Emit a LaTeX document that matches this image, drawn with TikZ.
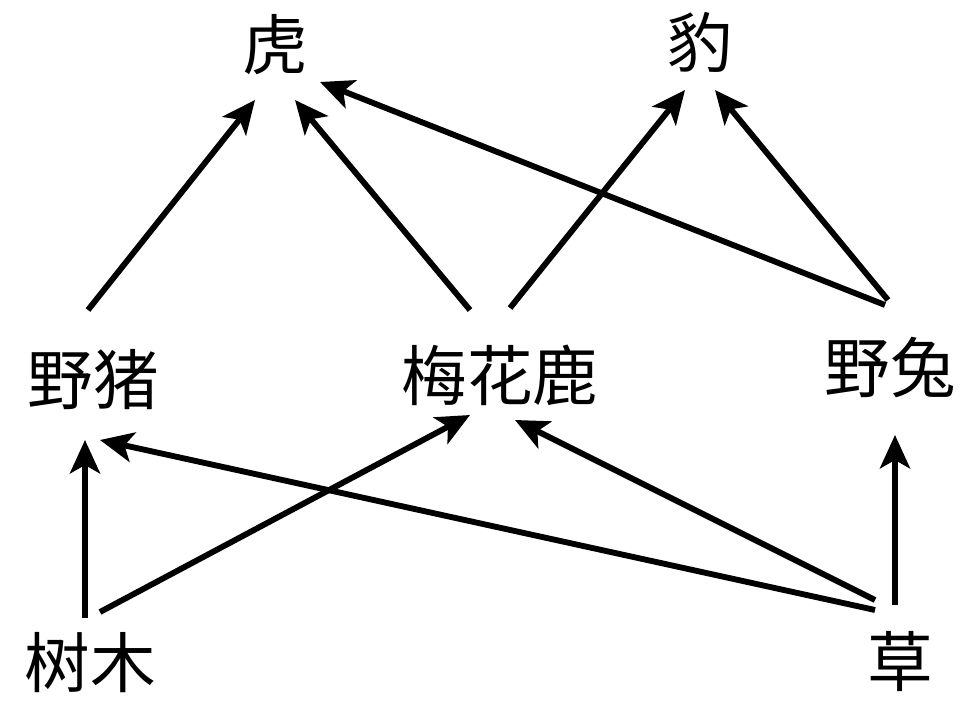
\documentclass[tikz,border=0pt]{standalone}
\usepackage{fontspec}
\setmainfont{Noto Sans CJK SC}
\usetikzlibrary{arrows.meta, positioning}
\tikzstyle{animal} = [inner sep = 0, font = \fontsize{56}{58}\selectfont]
\tikzstyle{eat} = [line width = 5pt, -{Stealth[length = 1cm, width = 0.9cm, inset = 0.25cm]}]

\begin{document}
\begin{tikzpicture}[x = 0.03cm, y = -0.03cm]
      \useasboundingbox (0, 0) rectangle (967, 707);
      % top
      \node [animal] (tiger) at (275, 45) {虎};
      \node [animal] (leopard) at (700, 42) {豹};
      % middle
      \node [animal] (boar) at (93, 380) {野猪};
      \node [animal] (deer) at (500, 375) {梅花鹿};
      \node [animal] (hare) at (890, 368) {野兔};
      % bottom
      \node [animal] (tree) at (90, 663) {树木};
      \node [animal] (grass) at (900, 662) {草};

      \draw [eat] ([shift = {(-5, -70)}]boar.center) -- ([shift = {(-20, 55)}]tiger.center);
      \draw [eat] ([shift = {(-30, -65)}]deer.center) -- ([shift = {(20, 55)}]tiger.center);
      \draw [eat] ([shift = {(-5, -63)}]hare.center) -- ([shift = {(45, 37)}]tiger.center);
      \draw [eat] ([shift = {(10, -67)}]deer.center) -- ([shift = {(-15, 48)}]leopard.center);
      \draw [eat] ([shift = {(-2, -68)}]hare.center) -- ([shift = {(15, 48)}]leopard.center);
      \draw [eat] ([shift = {(-5, -45)}]tree.center) -- ([shift = {(-8, 60)}]boar.center);
      \draw [eat] ([shift = {(10, -51)}]tree.center) -- ([shift = {(-30, 40)}]deer.center);
      \draw [eat] ([shift = {(-25, -52)}]grass.center) -- ([shift = {(7, 60)}]boar.center);
      \draw [eat] ([shift = {(-25, -62)}]grass.center) -- ([shift = {(15, 45)}]deer.center);
      \draw [eat] ([shift = {(-5, -57)}]grass.center) -- ([shift = {(5, 67)}]hare.center);
\end{tikzpicture}
\end{document}
